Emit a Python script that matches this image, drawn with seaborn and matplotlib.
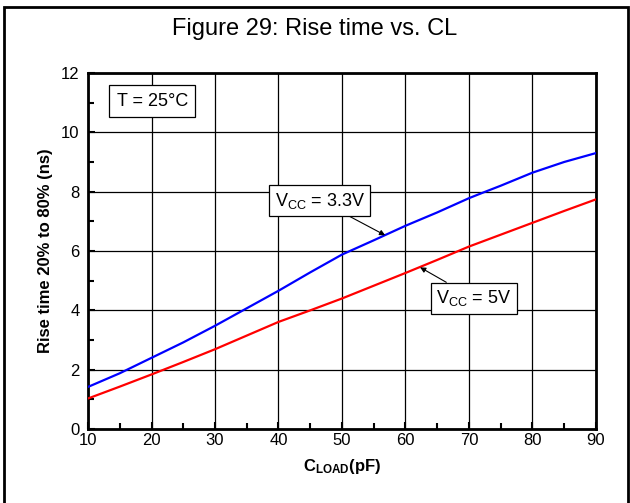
import matplotlib
matplotlib.use('Agg')
import matplotlib.pyplot as plt
import seaborn as sns
import pandas as pd
from matplotlib.patches import Rectangle
from matplotlib.ticker import MultipleLocator

# values
c_load = [10, 15, 20, 25, 30, 35, 40, 45, 50, 55, 60, 65, 70, 72, 75, 80, 85, 90]
rise_33 = [1.42, 1.88, 2.40, 2.92, 3.48, 4.07, 4.66, 5.28, 5.88, 6.36, 6.85, 7.30, 7.78, 7.95, 8.20, 8.64, 9.00, 9.30]
rise_5 = [1.03, 1.43, 1.84, 2.26, 2.69, 3.15, 3.61, 4.00, 4.40, 4.83, 5.26, 5.70, 6.15, 6.31, 6.55, 6.95, 7.35, 7.74]

x_ticks = [10, 20, 30, 40, 50, 60, 70, 80, 90]
y_ticks = [0, 2, 4, 6, 8, 10, 12]


def main():
	sns.set_style('ticks')
	plt.rcParams['font.family'] = ['Liberation Sans', 'DejaVu Sans']
	plt.rcParams['mathtext.fontset'] = 'custom'
	plt.rcParams['mathtext.rm'] = 'Liberation Sans'
	plt.rcParams['mathtext.it'] = 'Liberation Sans'
	plt.rcParams['mathtext.bf'] = 'Liberation Sans:bold'
	for k in ['text.color', 'axes.labelcolor', 'xtick.color', 'ytick.color']:
		plt.rcParams[k] = 'black'

	df = pd.DataFrame({'cl': c_load, 'v33': rise_33, 'v5': rise_5})

	fig = plt.figure(figsize=(6.3, 5.03), dpi=100)
	ax = fig.add_axes([0.1397, 0.147, 0.8063, 0.708])

	sns.lineplot(data=df, x='cl', y='v33', ax=ax, color='#0000ff', lw=1.6, zorder=3)
	sns.lineplot(data=df, x='cl', y='v5', ax=ax, color='#ff0000', lw=1.6, zorder=3)

	ax.set_xlim(10, 90)
	ax.set_ylim(0, 12)
	ax.set_xticks(x_ticks)
	ax.set_yticks(y_ticks)
	ax.xaxis.set_minor_locator(MultipleLocator(5))
	ax.yaxis.set_minor_locator(MultipleLocator(1))
	ax.tick_params(which='major', direction='in', length=5, width=1.5, labelsize=12)
	ax.tick_params(axis='x', which='major', pad=3)
	ax.tick_params(axis='y', which='major', pad=6)
	ax.tick_params(which='minor', direction='in', length=4, width=1.5)
	ax.grid(True, which='major', color='black', lw=0.9)
	for s in ax.spines.values():
		s.set_linewidth(2)
		s.set_color('black')

	ax.set_xlabel(r'$\mathbf{C_{LOAD}}$(pF)', fontsize=12, fontweight='bold', labelpad=6)
	ax.set_ylabel('Rise time 20% to 80% (ns)', fontsize=12, fontweight='bold', labelpad=6)

	fig.text(0.5, 0.942, 'Figure 29: Rise time vs. CL', ha='center', va='center', fontsize=17)

	box = dict(boxstyle='square,pad=0.3', fc='white', ec='black', lw=0.9)
	ax.text(20.1, 11.05, 'T = 25°C', ha='center', va='center', fontsize=13,
		bbox=dict(boxstyle='square,pad=0.4', fc='white', ec='black', lw=0.9))
	ax.annotate(r'V$_{\mathrm{CC}}$ = 3.3V', xy=(56.8, 6.53), xytext=(46.5, 7.7),
		ha='center', va='center', fontsize=13, bbox=box,
		arrowprops=dict(arrowstyle='-|>', color='black', lw=0.8, shrinkA=0, shrinkB=0,
			mutation_scale=8))
	ax.annotate(r'V$_{\mathrm{CC}}$ = 5V', xy=(62.3, 5.45), xytext=(70.8, 4.41),
		ha='center', va='center', fontsize=13, bbox=box,
		arrowprops=dict(arrowstyle='-|>', color='black', lw=0.8, shrinkA=0, shrinkB=0,
			mutation_scale=8))

	# outer frame of the figure
	fig.patches.append(Rectangle((4 / 630, -0.05), 624 / 630, 1.05 - 7 / 503,
		transform=fig.transFigure, fill=False, ec='black', lw=2))

	fig.savefig('out.png', dpi=100)


if __name__ == '__main__':
	main()
